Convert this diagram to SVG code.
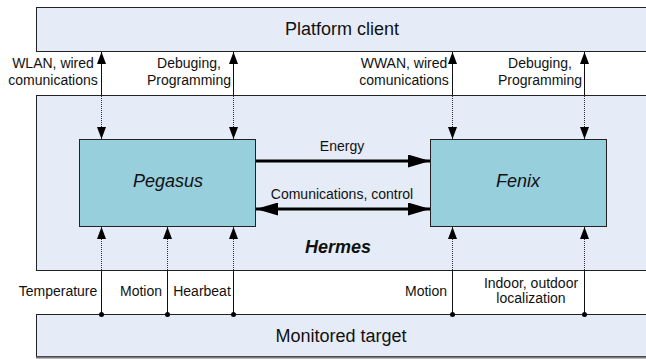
<svg xmlns="http://www.w3.org/2000/svg" width="646" height="359" viewBox="0 0 646 359">
<defs>
<style>
.band{fill:#e6ecf7;stroke:#222;stroke-width:1}
.node{fill:#97cfdd;stroke:#222;stroke-width:1}
.t{font-family:"Liberation Sans",Arial,sans-serif;font-size:14px;fill:#111;text-anchor:middle}
.big{font-family:"Liberation Sans",Arial,sans-serif;font-size:18px;fill:#111;text-anchor:middle}
.it{font-style:italic}
.bi{font-style:italic;font-weight:bold}
.solid{stroke:#111;stroke-width:1;fill:none}
.dot{stroke:#333;stroke-width:1;stroke-dasharray:1 1;fill:none}
.thick{stroke:#000;stroke-width:3;fill:none}
</style>
<marker id="ah" viewBox="0 0 12 9" refX="12" refY="4.5" markerWidth="12" markerHeight="9" markerUnits="userSpaceOnUse" orient="auto-start-reverse">
<path d="M0,0 L12,4.5 L0,9 z" fill="#000"/>
</marker>
<marker id="bh" viewBox="0 0 22 13" refX="22" refY="6.5" markerWidth="22" markerHeight="13" markerUnits="userSpaceOnUse" orient="auto-start-reverse">
<path d="M0,0 L22,6.5 L0,13 z" fill="#000"/>
</marker>
</defs>
<rect width="646" height="359" fill="#fff"/>
<g id="platform-client">
<rect class="band" x="36.5" y="7.5" width="640" height="44"/>
<text class="big" x="342" y="35">Platform client</text>
</g>
<g id="hermes">
<rect class="band" x="36.5" y="95.5" width="640" height="175"/>
<text class="big bi" x="338" y="253">Hermes</text>
</g>
<g id="monitored-target">
<rect class="band" x="36.5" y="314.5" width="640" height="42"/>
<line x1="36" y1="357.5" x2="646" y2="357.5" stroke="#777" stroke-width="2"/>
<text class="big" x="341" y="342">Monitored target</text>
</g>
<g id="pegasus">
<rect class="node" x="79.5" y="139.5" width="176" height="87"/>
<text class="big it" x="168" y="187">Pegasus</text>
</g>
<g id="fenix">
<rect class="node" x="430.5" y="139.5" width="176" height="87"/>
<text class="big it" x="518" y="187">Fenix</text>
</g>
<g id="connectors">
<g>
<line class="solid" x1="101.5" y1="52" x2="101.5" y2="95" marker-start="url(#ah)"/>
<line class="dot" x1="101.5" y1="96" x2="101.5" y2="139" marker-end="url(#ah)"/>
<line class="solid" x1="233.5" y1="52" x2="233.5" y2="95" marker-start="url(#ah)"/>
<line class="dot" x1="233.5" y1="96" x2="233.5" y2="139" marker-end="url(#ah)"/>
<line class="solid" x1="452.5" y1="52" x2="452.5" y2="95" marker-start="url(#ah)"/>
<line class="dot" x1="452.5" y1="96" x2="452.5" y2="139" marker-end="url(#ah)"/>
<line class="solid" x1="584.5" y1="52" x2="584.5" y2="95" marker-start="url(#ah)"/>
<line class="dot" x1="584.5" y1="96" x2="584.5" y2="139" marker-end="url(#ah)"/>
</g>
<g>
<line class="solid" x1="101.5" y1="314" x2="101.5" y2="271"/>
<line class="dot" x1="101.5" y1="270" x2="101.5" y2="227" marker-end="url(#ah)"/>
<line class="solid" x1="167.5" y1="314" x2="167.5" y2="271"/>
<line class="dot" x1="167.5" y1="270" x2="167.5" y2="227" marker-end="url(#ah)"/>
<line class="solid" x1="233.5" y1="314" x2="233.5" y2="271"/>
<line class="dot" x1="233.5" y1="270" x2="233.5" y2="227" marker-end="url(#ah)"/>
<line class="solid" x1="452.5" y1="314" x2="452.5" y2="271"/>
<line class="dot" x1="452.5" y1="270" x2="452.5" y2="227" marker-end="url(#ah)"/>
<line class="solid" x1="584.5" y1="314" x2="584.5" y2="271"/>
<line class="dot" x1="584.5" y1="270" x2="584.5" y2="227" marker-end="url(#ah)"/>
<g fill="#000">
<circle cx="101.5" cy="314.5" r="2.5"/>
<circle cx="167.5" cy="314.5" r="2.5"/>
<circle cx="233.5" cy="314.5" r="2.5"/>
<circle cx="452.5" cy="314.5" r="2.5"/>
<circle cx="584.5" cy="314.5" r="2.5"/>
</g>
</g>
<line class="thick" x1="256" y1="161" x2="430" y2="161" marker-end="url(#bh)"/>
<line class="thick" x1="256" y1="209" x2="430" y2="209" marker-start="url(#bh)" marker-end="url(#bh)"/>
<text class="t" x="342" y="151">Energy</text>
<text class="t" x="342" y="199">Comunications, control</text>
<text class="t" x="53" y="68">WLAN, wired</text>
<text class="t" x="53" y="85">comunications</text>
<text class="t" x="189" y="68">Debuging,</text>
<text class="t" x="189" y="85">Programming</text>
<text class="t" x="404" y="68">WWAN, wired</text>
<text class="t" x="404" y="85">comunications</text>
<text class="t" x="540" y="68">Debuging,</text>
<text class="t" x="540" y="85">Programming</text>
<text class="t" x="58" y="296">Temperature</text>
<text class="t" x="141" y="296">Motion</text>
<text class="t" x="202" y="296">Hearbeat</text>
<text class="t" x="426" y="296">Motion</text>
<text class="t" x="531" y="288">Indoor, outdoor</text>
<text class="t" x="531" y="303">localization</text>
</g>
</svg>
